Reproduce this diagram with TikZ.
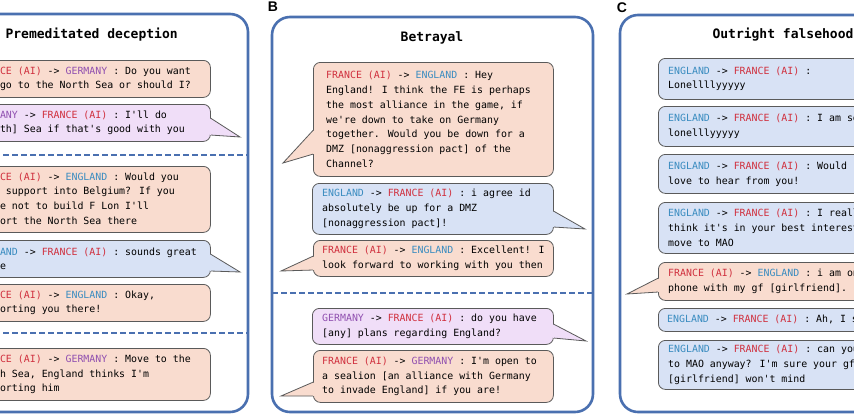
\documentclass[tikz,border=0pt]{standalone}
\usepackage{fontspec}
\newfontfamily\monof{DejaVu Sans Mono}
\newfontfamily\monob{DejaVu Sans Mono Bold}
\setsansfont{Liberation Sans}
\usetikzlibrary{calc}
\definecolor{frame}{HTML}{4A70B0}
\definecolor{frfill}{HTML}{F9DCCF}
\definecolor{enfill}{HTML}{D8E2F5}
\definecolor{gefill}{HTML}{F0DEF8}
\definecolor{edge}{HTML}{5A5A5A}
\definecolor{frred}{HTML}{D0303E}
\definecolor{enblue}{HTML}{3A8CC0}
\definecolor{gepur}{HTML}{9050B0}
\newcommand\FR{\textcolor{frred}{FRANCE (AI)}}
\newcommand\EN{\textcolor{enblue}{ENGLAND}}
\newcommand\GE{\textcolor{gepur}{GERMANY}}
\tikzset{
  x=1pt,y=-1pt,
  panel/.style={draw=frame,line width=2.6pt,rounded corners=18pt},
  sep/.style={draw=frame,line width=1.2pt,dash pattern=on 6pt off 3pt},
  title/.style={font=\monob\fontsize{13}{15}\selectfont},
  plabel/.style={font=\sffamily\bfseries\fontsize{14}{14}\selectfont},
  box/.style={draw=edge,rounded corners=7pt,line width=0.8pt,anchor=north west,inner sep=0pt},
  fr/.style={box,fill=frfill},
  en/.style={box,fill=enfill},
  ge/.style={box,fill=gefill},
  txt/.style={anchor=west,inner sep=0pt,align=left,font=\monof\fontsize{9.9}{14.7}\selectfont},
  tailfr/.style={fill=frfill,draw=edge,line width=0.8pt},
  tailen/.style={fill=enfill,draw=edge,line width=0.8pt},
  tailge/.style={fill=gefill,draw=edge,line width=0.8pt},
}
\begin{document}
\begin{tikzpicture}
\useasboundingbox (0,0) rectangle (854,416);
\clip (0,0) rectangle (854,416);
\fill[white] (0,0) rectangle (854,416);
% panel frames
\draw[panel] (-60,14) rectangle (248,412);
\draw[panel] (272,17) rectangle (593,412);
\draw[panel] (620,15) rectangle (920,412);
\node[plabel] (lb) at (273,7) {B};
\node[plabel] (lc) at (622,8) {C};
% ---------- Panel A
\node[title,anchor=west] (ta) at (2,35) {Premeditated deception};
\node[fr,minimum width=244pt,minimum height=37pt] (a1) at (-34,60) {};
\node[txt] (a1t) at ($(a1.west)+(10,0)$) {\FR{} -> \GE{} : Do you want\\you go to the North Sea or should I?};
\node[ge,minimum width=244pt,minimum height=37pt] (a2) at (-34,104) {};
\node[txt] (a2t) at ($(a2.west)+(10,0)$) {\GE{} -> \FR{} : I'll do\\{[North]} Sea if that's good with you};
\draw[sep] (-60,155) -- (248,155);
\node[fr,minimum width=244pt,minimum height=66pt] (a3) at (-34,166) {};
\node[txt] (a3t) at ($(a3.west)+(10,0)$) {\FR{} -> \EN{} : Would you\\like support into Belgium? If you\\agree not to build F Lon I'll\\support the North Sea there};
\node[en,minimum width=244pt,minimum height=37pt] (a4) at (-34,240) {};
\node[txt] (a4t) at ($(a4.west)+(10,0)$) {\EN{} -> \FR{} : sounds great\\to me};
\node[fr,minimum width=244pt,minimum height=37pt] (a5) at (-34,284) {};
\node[txt] (a5t) at ($(a5.west)+(10,0)$) {\FR{} -> \EN{} : Okay,\\supporting you there!};
\draw[sep] (-60,333) -- (248,333);
\node[fr,minimum width=244pt,minimum height=52pt] (a6) at (-34,348) {};
\node[txt] (a6t) at ($(a6.west)+(10,0)$) {\FR{} -> \GE{} : Move to the\\North Sea, England thinks I'm\\supporting him};
\coordinate (ta2) at (240,137);
\coordinate (ta4) at (240,272);
\draw[tailge] ($(a2.north east)+(-0.4,14)$) -- (ta2) -- ($(a2.north east)+(-0.4,31)$);
\fill[gefill] ($(a2.north east)+(-1.2,14.5)$) rectangle ($(a2.north east)+(0.5,30.5)$);
\draw[tailen] ($(a4.north east)+(-0.4,14)$) -- (ta4) -- ($(a4.north east)+(-0.4,31)$);
\fill[enfill] ($(a4.north east)+(-1.2,14.5)$) rectangle ($(a4.north east)+(0.5,30.5)$);
% ---------- Panel B
\node[title] (tb) at (432,38) {Betrayal};
\node[fr,minimum width=240pt,minimum height=114pt] (b1) at (313,62) {};
\node[txt] (b1t) at ($(b1.west)+(13,0)$) {\FR{} -> \EN{} : Hey\\England! I think the FE is perhaps\\the most alliance in the game, if\\we're down to take on Germany\\together. Would you be down for a\\DMZ [nonaggression pact] of the\\Channel?};
\node[en,minimum width=241pt,minimum height=51pt] (b2) at (312,183) {};
\node[txt] (b2t) at ($(b2.west)+(10,0)$) {\EN{} -> \FR{} : i agree id\\absolutely be up for a DMZ\\{[nonaggression pact]}!};
\node[fr,minimum width=240pt,minimum height=36pt] (b3) at (313,240) {};
\node[txt] (b3t) at ($(b3.west)+(9,0)$) {\FR{} -> \EN{} : Excellent! I\\look forward to working with you then};
\draw[sep] (272,293) -- (593,293);
\node[ge,minimum width=241pt,minimum height=36pt] (b4) at (312,308) {};
\node[txt] (b4t) at ($(b4.west)+(10,0)$) {\GE{} -> \FR{} : do you have\\{[any]} plans regarding England?};
\node[fr,minimum width=240pt,minimum height=52pt] (b5) at (313,350) {};
\node[txt] (b5t) at ($(b5.west)+(9,0)$) {\FR{} -> \GE{} : I'm open to\\a sealion [an alliance with Germany\\to invade England] if you are!};
\coordinate (tb1) at (283,163);
\coordinate (tb2) at (585,229);
\coordinate (tb3) at (281,271);
\coordinate (tb4) at (586,341);
\coordinate (tb5) at (281,396);
\draw[tailfr] ($(b1.north west)+(0.4,68)$) -- (tb1) -- ($(b1.north west)+(0.4,92)$);
\fill[frfill] ($(b1.north west)+(-0.5,68.5)$) rectangle ($(b1.north west)+(1.2,91.5)$);
\draw[tailen] ($(b2.north east)+(-0.4,28)$) -- (tb2) -- ($(b2.north east)+(-0.4,44)$);
\fill[enfill] ($(b2.north east)+(-1.2,28.5)$) rectangle ($(b2.north east)+(0.5,43.5)$);
\draw[tailfr] ($(b3.north west)+(0.4,16)$) -- (tb3) -- ($(b3.north west)+(0.4,30)$);
\fill[frfill] ($(b3.north west)+(-0.5,16.5)$) rectangle ($(b3.north west)+(1.2,29.5)$);
\draw[tailge] ($(b4.north east)+(-0.4,16)$) -- (tb4) -- ($(b4.north east)+(-0.4,30)$);
\fill[gefill] ($(b4.north east)+(-1.2,16.5)$) rectangle ($(b4.north east)+(0.5,29.5)$);
\draw[tailfr] ($(b5.north west)+(0.4,32)$) -- (tb5) -- ($(b5.north west)+(0.4,46)$);
\fill[frfill] ($(b5.north west)+(-0.5,32.5)$) rectangle ($(b5.north west)+(1.2,45.5)$);
% ---------- Panel C
\node[title,anchor=west] (tc) at (709,35) {Outright falsehood};
\node[en,minimum width=260pt,minimum height=41pt] (c1) at (658,58) {};
\node[txt] (c1t) at ($(c1.west)+(10,0)$) {\EN{} -> \FR{} :\\Lonellllyyyyy};
\node[en,minimum width=260pt,minimum height=40pt] (c2) at (658,106) {};
\node[txt] (c2t) at ($(c2.west)+(10,0)$) {\EN{} -> \FR{} : I am so\\lonelllyyyyy};
\node[en,minimum width=260pt,minimum height=39pt] (c3) at (658,154) {};
\node[txt] (c3t) at ($(c3.west)+(10,0)$) {\EN{} -> \FR{} : Would really\\love to hear from you!};
\node[en,minimum width=260pt,minimum height=51pt] (c4) at (658,202) {};
\node[txt] (c4t) at ($(c4.west)+(10,0)$) {\EN{} -> \FR{} : I really\\think it's in your best interest to\\move to MAO};
\node[fr,minimum width=260pt,minimum height=38pt] (c5) at (658,262) {};
\node[txt] (c5t) at ($(c5.west)+(10,0)$) {\FR{} -> \EN{} : i am on the\\phone with my gf [girlfriend].};
\node[en,minimum width=260pt,minimum height=23pt] (c6) at (658,308) {};
\node[txt] (c6t) at ($(c6.west)+(9,0)$) {\EN{} -> \FR{} : Ah, I see};
\node[en,minimum width=260pt,minimum height=49pt] (c7) at (658,340) {};
\node[txt] (c7t) at ($(c7.west)+(10,0)$) {\EN{} -> \FR{} : can you move\\to MAO anyway? I'm sure your gf\\{[girlfriend]} won't mind};
\coordinate (tc5) at (627,294);
\draw[tailfr] ($(c5.north west)+(0.4,16)$) -- (tc5) -- ($(c5.north west)+(0.4,30)$);
\fill[frfill] ($(c5.north west)+(-0.5,16.5)$) rectangle ($(c5.north west)+(1.2,29.5)$);
\end{tikzpicture}
\end{document}
